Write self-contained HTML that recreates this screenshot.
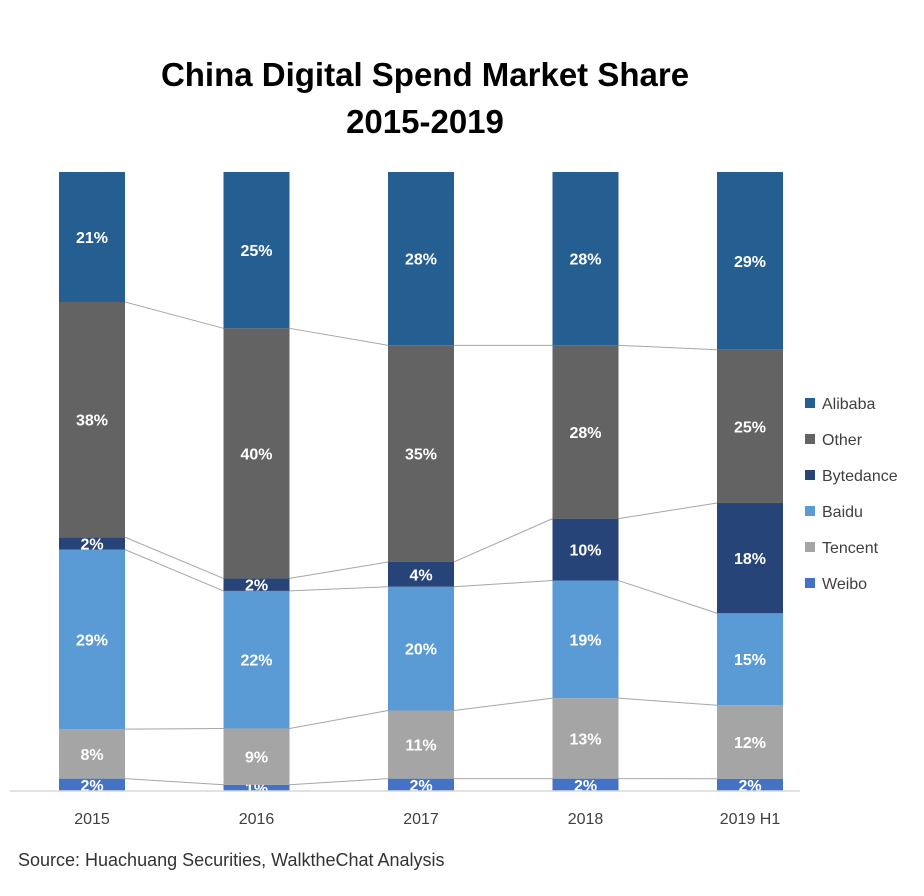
<!DOCTYPE html>
<html><head><meta charset="utf-8">
<style>
body{margin:0;background:#fff;font-family:"Liberation Sans",sans-serif;}
svg{display:block}
</style></head>
<body>
<svg id="chart" width="924" height="896" xmlns="http://www.w3.org/2000/svg">
<text x="425" y="86" text-anchor="middle" font-size="33" font-weight="bold" fill="#000">China Digital Spend Market Share</text>
<text x="425" y="133" text-anchor="middle" font-size="33" font-weight="bold" fill="#000">2015-2019</text>
<g id="connectors"></g>
<g id="bars"></g>
<line x1="10" y1="791" x2="800" y2="791" stroke="#d9d9d9" stroke-width="1.5"/>
<g id="xlabels"></g>
<g id="legend"></g>
<text x="18" y="866" font-size="18" fill="#333">Source: Huachuang Securities, WalktheChat Analysis</text>
</svg>
<script>
const categories=["2015","2016","2017","2018","2019 H1"];
const seriesNames=["Weibo","Tencent","Baidu","Bytedance","Other","Alibaba"];
const weibo=[2,1,2,2,2];
const tencent=[8,9,11,13,12];
const baidu=[29,22,20,19,15];
const bytedance=[2,2,4,10,18];
const other=[38,40,35,28,25];
const alibaba=[21,25,28,28,29];
const series=[weibo,tencent,baidu,bytedance,other,alibaba];
const colors=["#4472c4","#a5a5a5","#5b9bd5","#264478","#636363","#255e91"];
const NS="http://www.w3.org/2000/svg";
const yTop=172,yBottom=791,barW=66,x0=59,step=164.5;
function xPos(i){return x0+i*step;}
function yPos(frac){return yBottom-frac*(yBottom-yTop);}
const bars=document.getElementById('bars'),conn=document.getElementById('connectors');
const bounds=[];
categories.forEach((c,i)=>{
  let total=series.reduce((s,a)=>s+a[i],0),cum=0;
  bounds[i]=[];
  series.forEach((a,k)=>{
    const y1=yPos(cum/total);cum+=a[i];const y2=yPos(cum/total);
    bounds[i].push(y2);
    const r=document.createElementNS(NS,'rect');
    
    
    r.setAttribute('x',xPos(i));r.setAttribute('y',y2);r.setAttribute('width',barW);r.setAttribute('height',y1-y2);r.setAttribute('fill',colors[k]);
    bars.appendChild(r);
    const t=document.createElementNS(NS,'text');
    
    
    t.setAttribute('x',xPos(i)+barW/2);t.setAttribute('y',(y1+y2)/2+6);t.setAttribute('text-anchor','middle');
    t.setAttribute('font-size','16');t.setAttribute('font-weight','bold');t.setAttribute('fill','#fff');
    t.textContent=a[i]+'%';bars.appendChild(t);
  });
  const l=document.createElementNS(NS,'text');
  
  
  l.setAttribute('x',xPos(i)+barW/2);l.setAttribute('y',824);l.setAttribute('text-anchor','middle');l.setAttribute('font-size','16');l.setAttribute('fill','#404040');
  l.textContent=c;document.getElementById('xlabels').appendChild(l);
});
for(let i=0;i<categories.length-1;i++){
  for(let k=0;k<series.length-1;k++){
    const ln=document.createElementNS(NS,'line');
    
    
    ln.setAttribute('x1',xPos(i)+barW);ln.setAttribute('y1',bounds[i][k]);ln.setAttribute('x2',xPos(i+1));ln.setAttribute('y2',bounds[i+1][k]);
    ln.setAttribute('stroke','#a6a6a6');ln.setAttribute('stroke-width','1');conn.appendChild(ln);
  }
}
const legendOrder=[5,4,3,2,1,0];
const lg=document.getElementById('legend');
legendOrder.forEach((k,j)=>{
  const y=403+j*36;
  const r=document.createElementNS(NS,'rect');
  
  
  r.setAttribute('x',805);r.setAttribute('y',y-5);r.setAttribute('width',10);r.setAttribute('height',10);r.setAttribute('fill',colors[k]);lg.appendChild(r);
  const t=document.createElementNS(NS,'text');
  
  
  t.setAttribute('x',822);t.setAttribute('y',y+6);t.setAttribute('font-size','16');t.setAttribute('fill','#404040');
  t.textContent=seriesNames[k];lg.appendChild(t);
});
</script>
</body></html>
